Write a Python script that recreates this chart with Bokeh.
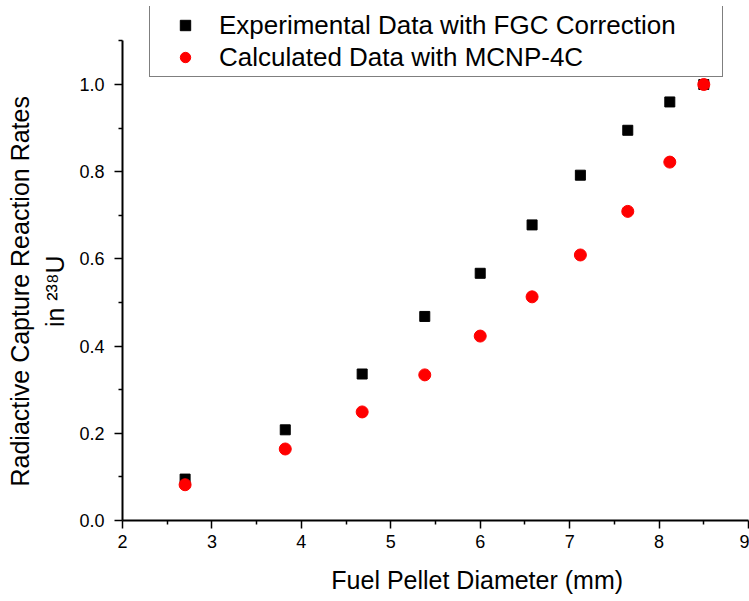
from bokeh.plotting import figure
from bokeh.models import FixedTicker, Legend, LegendItem, NumeralTickFormatter, Range1d
from bokeh.embed import file_html
from bokeh.resources import INLINE

diameter = [2.70, 3.82, 4.68, 5.38, 6.00, 6.58, 7.12, 7.65, 8.12, 8.50]
experimental = [0.095, 0.208, 0.336, 0.468, 0.567, 0.678, 0.792, 0.895, 0.960, 1.000]
calculated = [0.082, 0.164, 0.249, 0.334, 0.423, 0.513, 0.609, 0.709, 0.822, 1.000]

x_ticks = [2, 3, 4, 5, 6, 7, 8, 9]
x_minor = [2.5, 3.5, 4.5, 5.5, 6.5, 7.5, 8.5]
y_ticks = [0.0, 0.2, 0.4, 0.6, 0.8, 1.0]
y_minor = [0.1, 0.3, 0.5, 0.7, 0.9, 1.1]

FONT = "Liberation Sans"
NB = "\u00a0"

p = figure(width=749, height=600, output_backend="svg", toolbar_location=None,
           x_range=Range1d(2, 9), y_range=Range1d(0, 1.1789),
           min_border_left=122, min_border_right=1, min_border_top=6, min_border_bottom=80)
p.outline_line_color = None
p.grid.visible = False
p.background_fill_color = "white"
p.border_fill_color = "white"

for ax in (p.xaxis[0], p.yaxis[0]):
    ax.axis_line_width = 2
    ax.major_tick_line_width = 1.5
    ax.minor_tick_line_width = 1.5
    ax.major_tick_in = 0
    ax.major_tick_out = 8
    ax.minor_tick_in = 0
    ax.minor_tick_out = 4
    ax.major_label_text_font = FONT
    ax.major_label_text_font_size = "18px"
    ax.major_label_text_color = "black"
    ax.axis_line_color = "black"
    ax.major_tick_line_color = "black"
    ax.minor_tick_line_color = "black"
    ax.axis_label_text_font = FONT
    ax.axis_label_text_font_size = "25px"
    ax.axis_label_text_font_style = "normal"
    ax.axis_label_text_color = "black"

p.yaxis.bounds = (0, 1.1)
p.xaxis.ticker = FixedTicker(ticks=x_ticks, minor_ticks=x_minor)
p.yaxis.ticker = FixedTicker(ticks=y_ticks, minor_ticks=y_minor)
p.yaxis.formatter = NumeralTickFormatter(format="0.0")
p.xaxis.major_label_standoff = 6
p.yaxis.major_label_standoff = 10

p.xaxis.axis_label = NB * 12 + "Fuel Pellet Diameter (mm)"
p.xaxis.axis_label_standoff = 15

p.yaxis.axis_label = ("Radiactive Capture Reaction Rates" + NB * 8 + "\n" +
                      "in \u00b2\u00b3\u2078U" + NB * 8)
p.yaxis.axis_label_text_line_height = 1.27
p.yaxis.axis_label_standoff = 7

r_exp = p.scatter(diameter, experimental, marker="square", size=10, color="black")
r_calc = p.scatter(diameter, calculated, marker="circle", size=12, color="red")

legend = Legend(items=[LegendItem(label="Experimental Data with FGC Correction", renderers=[r_exp]),
                       LegendItem(label="Calculated Data with MCNP-4C", renderers=[r_calc])],
                location=(27, 443), padding=3, spacing=0, margin=0,
                glyph_width=64, glyph_height=26, label_standoff=2, label_width=500, label_height=32,
                label_text_font=FONT, label_text_font_size="26px", label_text_color="black",
                border_line_color="black", border_line_width=1.5, background_fill_alpha=1)
p.add_layout(legend, "center")

open("out.html", "w").write(file_html(p, INLINE))
